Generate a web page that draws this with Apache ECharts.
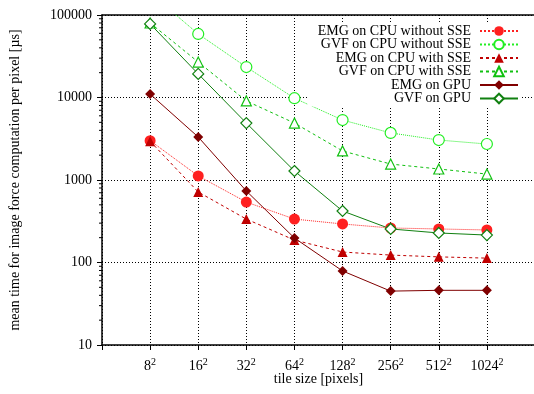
<!DOCTYPE html>
<html>
<head>
<meta charset="utf-8">
<script src="https://cdn.jsdelivr.net/npm/echarts@6/dist/echarts.min.js"></script>
<style>
  html, body { margin: 0; padding: 0; background: #fff; }
  #chart { width: 534px; height: 394px; }
</style>
</head>
<body>
<div id="chart"></div>
<script>
// tile side lengths (tiles are side x side pixels)
const tileSides = [8, 16, 32, 64, 128, 256, 512, 1024];

// mean time per pixel [µs]
const emgCpuNoSse = [3000, 1120, 540, 336, 293, 262, 255, 248];
const gvfCpuNoSse = [185000, 58900, 23400, 9800, 5330, 3720, 3050, 2730];
const emgCpuSse = [2950, 716, 336, 187, 134, 123, 117, 113];
const gvfCpuSse = [80000, 26900, 9080, 4900, 2250, 1560, 1360, 1180];
const emgGpu = [11000, 3320, 736, 198, 79, 45, 46, 46];
const gvfGpu = [78000, 19300, 4900, 1285, 421, 255, 228, 215];

// minor tick values on the log y axis
const minorTickValues = [
  20, 30, 40, 50, 60, 70, 80, 90,
  200, 300, 400, 500, 600, 700, 800, 900,
  2000, 3000, 4000, 5000, 6000, 7000, 8000, 9000,
  20000, 30000, 40000, 50000, 60000, 70000, 80000, 90000
];

const FONT = 'Liberation Serif';

const chart = echarts.init(document.getElementById('chart'));

const pairs = vals => tileSides.map((s, i) => [Math.log2(s), vals[i]]);

function series(name, vals, color, lineType, symbol, filled, size) {
  return {
    name: name,
    type: 'line',
    data: pairs(vals),
    symbol: symbol,
    symbolSize: size,
    showSymbol: true,
    clip: true,
    lineStyle: { color: color, width: 1, type: lineType },
    itemStyle: filled
      ? { color: color, borderColor: color, borderWidth: 0 }
      : { color: '#fff', borderColor: color, borderWidth: 1.2 },
    emphasis: { disabled: true }
  };
}

// short outward ticks at 2..9 x 10^k on the left axis
const minorTicks = {
  type: 'custom',
  silent: true,
  clip: false,
  data: [0],
  z: 5,
  renderItem: function (params, api) {
    const children = minorTickValues.map(v => {
      const p = api.coord([2, v]);
      return {
        type: 'line',
        shape: { x1: p[0] - 3, y1: p[1], x2: p[0], y2: p[1] },
        style: { stroke: '#000', lineWidth: 1 }
      };
    });
    return { type: 'group', children: children };
  }
};

const option = {
  backgroundColor: '#fff',
  animation: false,
  textStyle: { fontFamily: FONT },
  grid: { left: 102, right: -1, top: 15, bottom: 49, outerBoundsMode: 'none' },
  legend: {
    orient: 'vertical',
    align: 'right',
    right: 13,
    top: 24,
    itemWidth: 38,
    itemHeight: 12,
    itemGap: -0.5,
    padding: [0, 2, 1, 10],
    backgroundColor: '#fff',
    textStyle: { fontFamily: FONT, fontSize: 14, lineHeight: 14, color: '#000', padding: [0, 4, 0, 0] },
    data: ['EMG on CPU without SSE', 'GVF on CPU without SSE', 'EMG on CPU with SSE',
      'GVF on CPU with SSE', 'EMG on GPU', 'GVF on GPU']
  },
  xAxis: [{
    type: 'value',
    min: 2,
    max: 11,
    interval: 1,
    name: 'tile size [pixels]',
    nameLocation: 'middle',
    nameGap: 27,
    nameMoveOverlap: false,
    nameTextStyle: { fontFamily: FONT, fontSize: 14, color: '#000' },
    axisLine: { lineStyle: { color: '#000', width: 1.5 } },
    axisTick: { show: true, length: 5, lineStyle: { color: '#000' } },
    axisLabel: {
      margin: 12,
      formatter: v => (v >= 3 && v <= 10) ? '{b|' + Math.pow(2, v) + '}{s|2}' : '',
      rich: {
        b: { fontFamily: FONT, fontSize: 14, color: '#000' },
        s: { fontFamily: FONT, fontSize: 10, color: '#000', verticalAlign: 'top', padding: [0, 0, 8, 0] }
      }
    },
    splitLine: { show: true, lineStyle: { color: '#000', type: [1, 2], width: 1 } }
  }, {
    type: 'value',
    position: 'top',
    min: 2,
    max: 11,
    axisLine: { show: true, onZero: false, lineStyle: { color: '#000', width: 1.5 } },
    axisTick: { show: false },
    axisLabel: { show: false },
    splitLine: { show: false }
  }],
  yAxis: {
    type: 'log',
    min: 10,
    max: 100000,
    name: 'mean time for image force computation per pixel [µs]',
    nameLocation: 'middle',
    nameGap: 80,
    nameMoveOverlap: false,
    nameTextStyle: { fontFamily: FONT, fontSize: 14, color: '#000' },
    axisLine: { show: true, lineStyle: { color: '#000', width: 1.5 } },
    axisTick: { show: true, length: 5, lineStyle: { color: '#000' } },
    axisLabel: {
      fontFamily: FONT, fontSize: 14, color: '#000', margin: 10,
      formatter: v => String(Math.round(v))
    },
    splitLine: { show: true, lineStyle: { color: '#000', type: [1, 2], width: 1 } }
  },
  series: [
    series('EMG on CPU without SSE', emgCpuNoSse, '#ff2020', 'dotted', 'circle', true, 11),
    series('GVF on CPU without SSE', gvfCpuNoSse, '#22ee22', 'dotted', 'circle', false, 11),
    series('EMG on CPU with SSE', emgCpuSse, '#c00000', [3, 3], 'triangle', true, 10),
    series('GVF on CPU with SSE', gvfCpuSse, '#10c010', [3, 3], 'triangle', false, 10),
    series('EMG on GPU', emgGpu, '#800000', 'solid', 'diamond', true, 10),
    series('GVF on GPU', gvfGpu, '#108010', 'solid', 'diamond', false, 11),
    minorTicks
  ]
};

chart.setOption(option);
</script>
</body>
</html>
